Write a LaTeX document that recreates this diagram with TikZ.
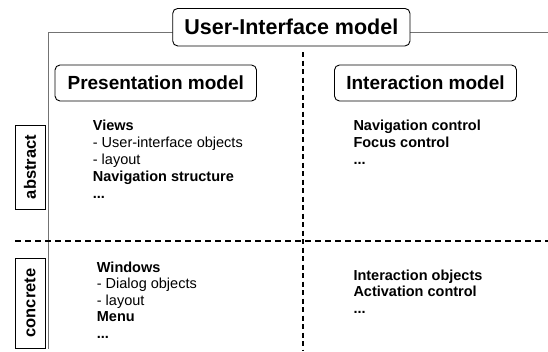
\documentclass[tikz,border=0pt]{standalone}
\usepackage{fontspec}
\setmainfont{Liberation Sans}
\begin{document}
\begin{tikzpicture}[x=1pt,y=-1pt,
  titlebox/.style={draw, line width=0.9pt, rounded corners=5pt, inner sep=0pt,
    font=\bfseries\fontsize{21.5}{24}\selectfont},
  modelbox/.style={draw, line width=0.9pt, rounded corners=5pt, inner sep=0pt,
    font=\bfseries\fontsize{19}{22}\selectfont, minimum height=36pt},
  levelbox/.style={draw, line width=0.9pt, inner sep=0pt, rotate=90,
    font=\bfseries\fontsize{16.5}{19}\selectfont, minimum height=30pt},
  frameline/.style={draw=black!55, line width=1.3pt},
  vsep/.style={draw=black, line width=1.9pt, dash pattern=on 5pt off 3.5pt},
  hsep/.style={draw=black, line width=1.8pt, dash pattern=on 6pt off 4pt},
  itemb/.style={anchor=base west, inner sep=0pt, font=\bfseries\fontsize{14.5}{17}\selectfont},
  itemr/.style={anchor=base west, inner sep=0pt, font=\fontsize{14.5}{17}\selectfont}]
\useasboundingbox (0,0) rectangle (548,351);

% frame
\coordinate (fl) at (172.7,32.3);
\coordinate (fc) at (48.5,32.3);
\coordinate (fb) at (48.5,349);
\coordinate (fr0) at (410,32.3);
\coordinate (fr) at (548,32.3);
\draw[frameline] (fl) -- (fc) -- (fb);
\draw[frameline] (fr0) -- (fr);

% separators
\coordinate (vt) at (302.7,52);
\coordinate (vb) at (302.7,351);
\coordinate (hl) at (15,241);
\coordinate (hr) at (548,241);
\draw[vsep] (vt) -- (vb);
\draw[hsep] (hl) -- (hr);

% title boxes
\node[titlebox, fill=white, minimum width=237.3pt, minimum height=37.5pt] (ui) at (291.35,27.2) {User-Interface model};
\node[modelbox, minimum width=201.5pt] (pm) at (155.75,83) {Presentation model};
\node[modelbox, minimum width=182pt] (im) at (425.5,83) {Interaction model};

% level boxes
\node[levelbox, minimum width=84pt] (abs) at (30,167) {abstract};
\node[levelbox, minimum width=90pt] (con) at (30,303) {concrete};

% abstract presentation
\node[itemb] (a1) at (92.7,130.5) {Views};
\node[itemr] (a2) at (92.7,147.3) {- User-interface objects};
\node[itemr] (a3) at (92.7,164) {- layout};
\node[itemb] (a4) at (92.7,181) {Navigation structure};
\node[itemb] (a5) at (92.7,198) {...};

% concrete presentation
\node[itemb] (c1) at (96.7,272) {Windows};
\node[itemr] (c2) at (96.7,288.5) {- Dialog objects};
\node[itemr] (c3) at (96.7,305) {- layout};
\node[itemb] (c4) at (96.7,321.5) {Menu};
\node[itemb] (c5) at (96.7,338) {...};

% abstract interaction
\node[itemb] (b1) at (353.3,130.5) {Navigation control};
\node[itemb] (b2) at (353.3,147) {Focus control};
\node[itemb] (b3) at (353.3,164) {...};

% concrete interaction
\node[itemb] (d1) at (353.3,280) {Interaction objects};
\node[itemb] (d2) at (353.3,296.7) {Activation control};
\node[itemb] (d3) at (353.3,313.5) {...};
\end{tikzpicture}
\end{document}
